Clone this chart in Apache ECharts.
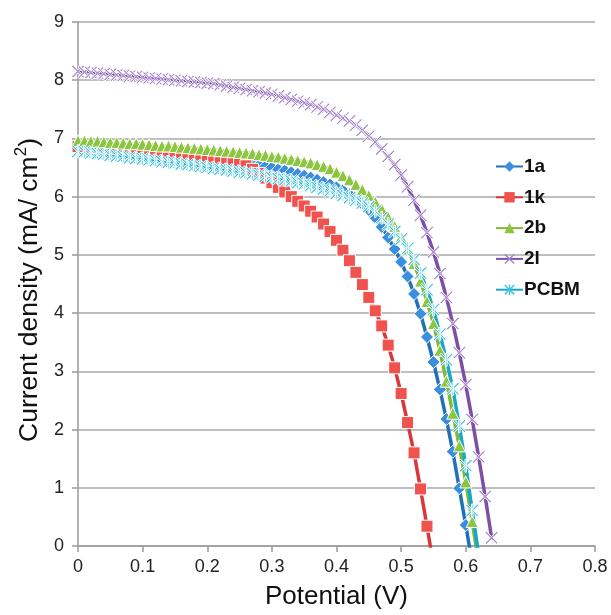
<!DOCTYPE html>
<html>
<head>
<meta charset="utf-8">
<script src="https://cdn.jsdelivr.net/npm/echarts@6/dist/echarts.min.js"></script>
<style>
html,body{margin:0;padding:0;background:#fff;}
#chart{width:611px;height:615px;}
</style>
</head>
<body>
<div id="chart"></div>
<script>
// Potential (V) grid shared by all series
var potential = [0.00,0.01,0.02,0.03,0.04,0.05,0.06,0.07,0.08,0.09,
  0.10,0.11,0.12,0.13,0.14,0.15,0.16,0.17,0.18,0.19,
  0.20,0.21,0.22,0.23,0.24,0.25,0.26,0.27,0.28,0.29,
  0.30,0.31,0.32,0.33,0.34,0.35,0.36,0.37,0.38,0.39,
  0.40,0.41,0.42,0.43,0.44,0.45,0.46,0.47,0.48,0.49,
  0.50,0.51,0.52,0.53,0.54,0.55,0.56,0.57,0.58,0.59,
  0.60,0.61,0.62,0.63,0.64];

var seriesNames = ['1a','1k','2b','2l','PCBM'];

var j1a = [6.87,6.87,6.86,6.86,6.85,6.85,6.84,6.84,6.83,6.82,
  6.81,6.80,6.79,6.78,6.77,6.76,6.75,6.74,6.72,6.71,
  6.69,6.67,6.66,6.64,6.62,6.60,6.58,6.56,6.54,6.52,
  6.50,6.47,6.45,6.42,6.39,6.36,6.33,6.29,6.25,6.21,
  6.16,6.11,6.04,5.96,5.87,5.77,5.64,5.48,5.30,5.10,
  4.88,4.63,4.33,3.99,3.59,3.16,2.69,2.18,1.62,0.99,
  0.36,-0.30];

var j1k = [6.86,6.86,6.85,6.85,6.84,6.84,6.83,6.83,6.82,6.81,
  6.81,6.80,6.79,6.78,6.77,6.76,6.75,6.74,6.72,6.71,
  6.69,6.67,6.65,6.63,6.60,6.57,6.53,6.47,6.40,6.32,
  6.24,6.16,6.08,6.00,5.92,5.84,5.75,5.65,5.53,5.40,
  5.25,5.08,4.90,4.70,4.49,4.27,4.04,3.78,3.45,3.06,
  2.62,2.12,1.60,0.98,0.34,-0.32];

var j2b = [6.96,6.96,6.95,6.95,6.94,6.93,6.93,6.92,6.91,6.91,
  6.90,6.89,6.88,6.87,6.87,6.86,6.85,6.84,6.83,6.82,
  6.81,6.80,6.79,6.78,6.77,6.76,6.75,6.74,6.72,6.71,
  6.69,6.68,6.66,6.64,6.62,6.60,6.58,6.55,6.52,6.48,
  6.42,6.36,6.29,6.21,6.12,6.02,5.91,5.79,5.65,5.49,
  5.31,5.10,4.85,4.55,4.20,3.82,3.36,2.83,2.28,1.72,
  1.10,0.42,-0.30];

var j2l = [8.15,8.14,8.13,8.12,8.11,8.10,8.09,8.08,8.07,8.06,
  8.05,8.04,8.03,8.02,8.01,8.00,7.99,7.98,7.97,7.96,
  7.95,7.94,7.92,7.90,7.88,7.86,7.84,7.82,7.80,7.78,
  7.76,7.73,7.70,7.67,7.64,7.61,7.58,7.54,7.50,7.45,
  7.40,7.35,7.30,7.23,7.14,7.04,6.94,6.82,6.69,6.55,
  6.37,6.17,5.94,5.68,5.38,5.05,4.68,4.27,3.82,3.32,
  2.77,2.17,1.53,0.85,0.14];

var jPCBM = [6.78,6.77,6.75,6.74,6.73,6.71,6.70,6.69,6.67,6.66,
  6.65,6.63,6.62,6.60,6.59,6.58,6.56,6.55,6.53,6.52,
  6.50,6.49,6.47,6.46,6.44,6.42,6.41,6.39,6.37,6.35,
  6.33,6.31,6.29,6.27,6.24,6.22,6.19,6.16,6.13,6.10,
  6.06,6.02,5.98,5.94,5.89,5.83,5.75,5.64,5.53,5.40,
  5.27,5.11,4.92,4.69,4.40,4.06,3.64,3.20,2.70,2.06,
  1.38,0.61,-0.15];

var xTicks = ['0','0.1','0.2','0.3','0.4','0.5','0.6','0.7','0.8'];
var yTicks = ['0','1','2','3','4','5','6','7','8','9'];

function pairs(vals){
  var out = [];
  for (var i = 0; i < vals.length; i++) out.push([potential[i], vals[i]]);
  return out;
}

var FONT = 'Liberation Sans, Arial, Helvetica, sans-serif';
var xPath = 'path://M1,0 L5,4 L9,0 L10,1 L6,5 L10,9 L9,10 L5,6 L1,10 L0,9 L4,5 L0,1 Z';
var starPath = 'path://M1,0 L5,4 L9,0 L10,1 L6,5 L10,9 L9,10 L5,6 L1,10 L0,9 L4,5 L0,1 Z M4.4,0 L5.6,0 L5.6,10 L4.4,10 Z';

var styles = [
  {data: j1a, line: '#1f72b8', mark: '#3a8ede', symbol: 'diamond', size: 13},
  {data: j1k, line: '#d9373a', mark: '#f0524e', symbol: 'rect', size: 12},
  {data: j2b, line: '#7fb83a', mark: '#8cc63f', symbol: 'triangle', size: 12},
  {data: j2l, line: '#7d4fa7', mark: '#a585cc', symbol: xPath, size: 13},
  {data: jPCBM, line: '#17a8c8', mark: '#3cc4e0', symbol: starPath, size: 13}
];

var series = styles.map(function(s, i){
  return {
    name: seriesNames[i],
    type: 'line',
    data: pairs(s.data),
    symbol: s.symbol,
    symbolSize: s.size,
    showSymbol: true,
    showAllSymbol: true,
    clip: true,
    lineStyle: {color: s.line, width: 3.5},
    itemStyle: {color: s.mark, borderColor: '#ffffff', borderWidth: 1},
    emphasis: {disabled: true}
  };
});

var chart = echarts.init(document.getElementById('chart'), null, {renderer: 'canvas'});
chart.setOption({
  animation: false,
  backgroundColor: '#ffffff',
  grid: {left: 78, right: 16, top: 22, bottom: 64, containLabel: false},
  legend: {
    orient: 'vertical',
    left: 495,
    top: 157,
    padding: 0,
    itemWidth: 27,
    itemHeight: 13,
    itemGap: 11.8,
    data: seriesNames,
    itemStyle: {borderWidth: 0},
    textStyle: {fontFamily: FONT, fontSize: 19, fontWeight: 'bold', color: '#111', padding: [0, 0, 0, -4]}
  },
  xAxis: {
    type: 'value',
    min: 0, max: 0.8, interval: 0.1,
    name: 'Potential (V)',
    nameLocation: 'middle',
    nameGap: 38,
    nameTextStyle: {fontFamily: FONT, fontSize: 26, color: '#111'},
    axisLine: {show: true, lineStyle: {color: '#9a9a9a', width: 1.5}},
    axisTick: {show: true, length: 6, lineStyle: {color: '#9a9a9a', width: 1.5}},
    axisLabel: {
      fontFamily: FONT, fontSize: 18, color: '#222', margin: 12,
      formatter: function(v){ return xTicks[Math.round(v * 10)]; }
    },
    splitLine: {show: false}
  },
  yAxis: {
    type: 'value',
    min: 0, max: 9, interval: 1,
    name: '{a|Current density (mA/ cm}{s|2}{a|)}',
    nameLocation: 'middle',
    nameRotate: 90,
    nameGap: 35,
    nameTextStyle: {
      padding: [0, 12, 0, 0],
      rich: {
        a: {fontFamily: FONT, fontSize: 26.5, color: '#111', lineHeight: 30, verticalAlign: 'bottom'},
        s: {fontFamily: FONT, fontSize: 17, color: '#111', lineHeight: 30, verticalAlign: 'top'}
      }
    },
    axisLine: {show: true, lineStyle: {color: '#9a9a9a', width: 1.5}},
    axisTick: {show: true, length: 6, lineStyle: {color: '#9a9a9a', width: 1.5}},
    axisLabel: {
      fontFamily: FONT, fontSize: 18, color: '#222', margin: 14,
      formatter: function(v){ return yTicks[Math.round(v)]; }
    },
    splitLine: {show: true, lineStyle: {color: '#a8a8a8', width: 1.5}}
  },
  series: series
});
</script>
</body>
</html>
